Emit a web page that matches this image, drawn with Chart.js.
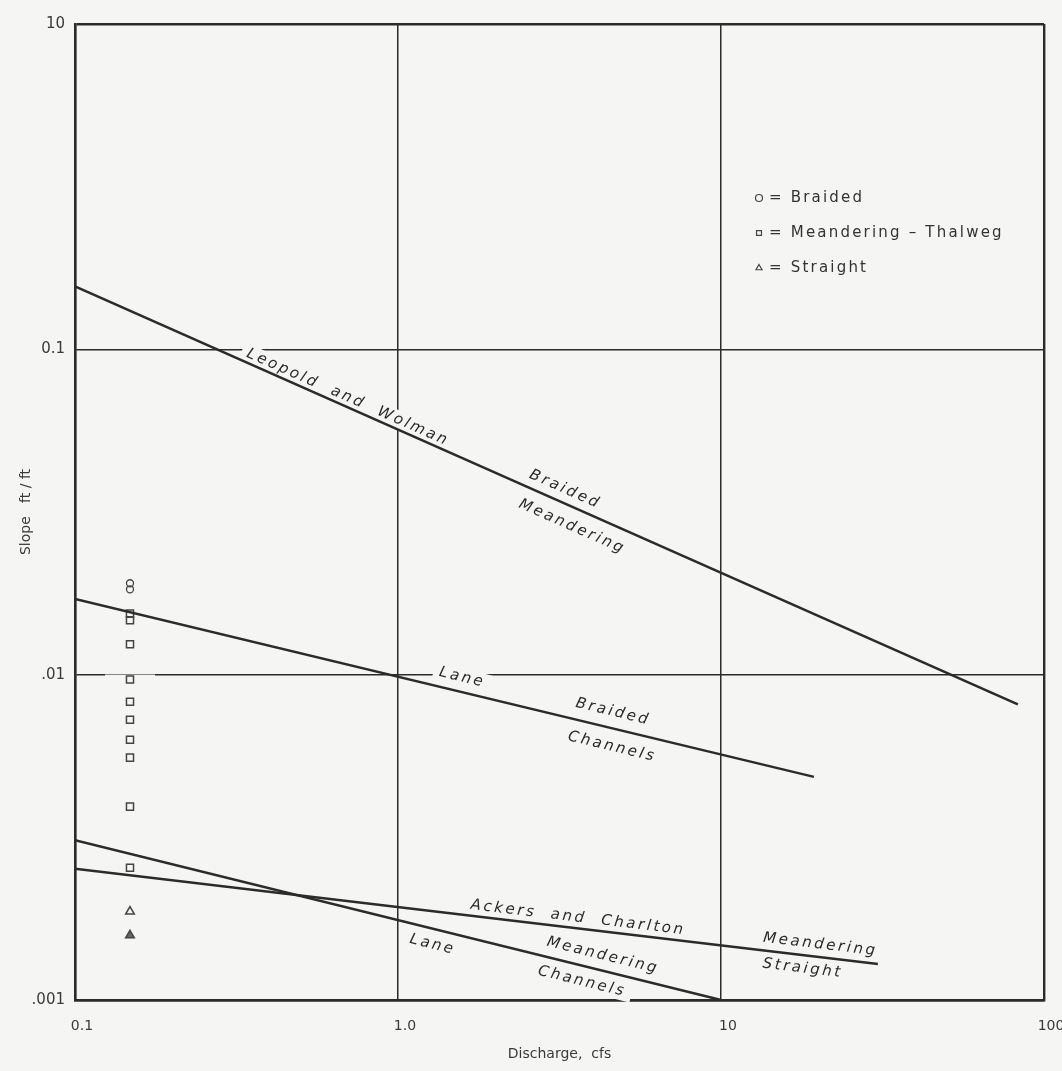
<!DOCTYPE html>
<html>
<head>
<meta charset="utf-8">
<title>Slope vs discharge</title>
<script src="https://cdn.jsdelivr.net/npm/chart.js@4.4.1/dist/chart.umd.min.js"></script>
<style>
  html, body { margin: 0; padding: 0; background: #f5f5f3; }
  #wrap { width: 1062px; height: 1071px; position: relative; }
</style>
</head>
<body>
<div id="wrap"><canvas id="slopeChart"></canvas></div>
<script>
  "use strict";

  // end points of the fitted lines: discharge (cfs) -> slope (ft/ft)
  const leopoldQ = [0.1, 83];
  const leopoldS = [0.156, 0.0081];
  const laneBraidedQ = [0.1, 19.4];
  const laneBraidedS = [0.0171, 0.00485];
  const ackersQ = [0.1, 30.6];
  const ackersS = [0.00253, 0.00129];
  const laneMeanderQ = [0.1, 10];
  const laneMeanderS = [0.0031, 0.001];

  // flume runs, all plotted at the same discharge
  const obsQ = 0.148;
  const braidedS = [0.0191, 0.0183];
  const meanderS = [0.0154, 0.0147, 0.0124, 0.00966, 0.00826, 0.00727,
                    0.00631, 0.00556, 0.00393, 0.00255];
  const straightS = [0.00187, 0.00158];

  const xTicks = [0.1, 1, 10, 100];
  const xTickLabels = ["0.1", "1.0", "10", "100"];
  const yTicks = [0.001, 0.01, 0.1, 1];
  const yTickLabels = [".001", ".01", "0.1", "10"];

  const keyLabels = ["= Braided", "= Meandering \u2013 Thalweg", "= Straight"];

  // words written along the lines (line = dataset index it follows)
  const lineNotes = [
    { text: "Leopold  and  Wolman", q: 0.70, s: 0.0711, line: 0 },
    { text: "Braided", q: 3.29, s: 0.0371, line: 0 },
    { text: "Meandering", q: 3.46, s: 0.0285, line: 0 },
    { text: "Lane", q: 1.58, s: 0.0098, line: 1 },
    { text: "Braided", q: 4.63, s: 0.00769, line: 1 },
    { text: "Channels", q: 4.6, s: 0.0060, line: 1 },
    { text: "Ackers  and  Charlton", q: 3.61, s: 0.00179, line: 2 },
    { text: "Meandering", q: 20.3, s: 0.00148, line: 2 },
    { text: "Straight", q: 17.9, s: 0.00125, line: 2 },
    { text: "Lane", q: 1.28, s: 0.00148, line: 3 },
    { text: "Meandering", q: 4.31, s: 0.00137, line: 3 },
    { text: "Channels", q: 3.71, s: 0.00114, line: 3 }
  ];

  const BG = "#f5f5f3";
  const INK = "#2b2b2b";

  const pts = (qs, ss) => ss.map((s, i) => ({ x: qs[i], y: s }));
  const col = (ss) => ss.map((s) => ({ x: obsQ, y: s }));

  const lineSet = (label, qs, ss) => ({
    label: label,
    data: pts(qs, ss),
    showLine: true,
    borderColor: INK,
    borderWidth: 2.5,
    pointRadius: 0,
    pointHoverRadius: 0
  });

  const bgPlugin = {
    id: "paper",
    beforeDraw(chart) {
      const { ctx, width, height } = chart;
      ctx.save();
      ctx.fillStyle = BG;
      ctx.fillRect(0, 0, width, height);
      ctx.restore();
    }
  };

  // labels sit on a paper-coloured patch so the grid breaks around them
  const notesPlugin = {
    id: "lineNotes",
    beforeDatasetsDraw(chart) {
      const { ctx, scales } = chart;
      ctx.save();
      ctx.font = 'italic 15px "DejaVu Sans"';
      ctx.letterSpacing = "2.6px";
      ctx.textAlign = "center";
      ctx.textBaseline = "middle";
      lineNotes.forEach((n) => {
        const el = chart.getDatasetMeta(n.line).data;
        const a = el[0], b = el[el.length - 1];
        const ang = Math.atan2(b.y - a.y, b.x - a.x);
        const px = scales.x.getPixelForValue(n.q);
        const py = scales.y.getPixelForValue(n.s);
        const w = ctx.measureText(n.text).width;
        ctx.save();
        ctx.translate(px, py);
        ctx.rotate(ang);
        ctx.fillStyle = BG;
        ctx.fillRect(-w / 2 - 6, -9, w + 12, 18);
        ctx.fillStyle = "#2a2a2a";
        ctx.fillText(n.text, 0, 0);
        ctx.restore();
      });
      // small gap in the grid around the column of observations
      [4, 5, 6].forEach((di) => {
        chart.getDatasetMeta(di).data.forEach((p) => {
          ctx.fillStyle = BG;
          ctx.fillRect(p.x - 25, p.y - 5, 50, 10);
        });
      });
      ctx.restore();
    }
  };

  const keyPlugin = {
    id: "keyBox",
    afterDatasetsDraw(chart) {
      const { ctx, chartArea } = chart;
      const x0 = chartArea.right - 285;
      const y0 = chartArea.top + 174;
      ctx.save();
      ctx.font = '15px "DejaVu Sans"';
      ctx.letterSpacing = "2.2px";
      ctx.textBaseline = "middle";
      [4, 5, 6].forEach((di, i) => {
        const ds = chart.data.datasets[di];
        const yy = y0 + i * 35;
        ctx.strokeStyle = "#444";
        ctx.fillStyle = "rgba(0,0,0,0)";
        ctx.lineWidth = 1.2;
        Chart.helpers.drawPoint(ctx, { pointStyle: ds.pointStyle, radius: 3.5, borderWidth: 1.2, rotation: 0 }, x0, yy);
        ctx.fillStyle = "#333";
        ctx.fillText(keyLabels[i], x0 + 10, yy);
      });
      ctx.restore();
    }
  };

  const frameWidth = (c, ticks) => {
    const v = c.tick ? c.tick.value : null;
    return v === ticks[0] || v === ticks[ticks.length - 1] ? 2.4 : 1.5;
  };

  new Chart(document.getElementById("slopeChart").getContext("2d"), {
    type: "scatter",
    data: {
      datasets: [
        lineSet("Leopold and Wolman", leopoldQ, leopoldS),
        lineSet("Lane braided", laneBraidedQ, laneBraidedS),
        lineSet("Ackers and Charlton", ackersQ, ackersS),
        lineSet("Lane meandering", laneMeanderQ, laneMeanderS),
        {
          label: "Braided",
          data: col(braidedS),
          pointStyle: "circle",
          pointRadius: 3.5,
          borderColor: "#444",
          borderWidth: 1.3,
          backgroundColor: "rgba(0,0,0,0)"
        },
        {
          label: "Meandering - Thalweg",
          data: col(meanderS),
          pointStyle: "rect",
          pointRadius: 5,
          borderColor: "#444",
          borderWidth: 1.5,
          backgroundColor: "rgba(0,0,0,0)"
        },
        {
          label: "Straight",
          data: col(straightS),
          pointStyle: "triangle",
          pointRadius: 5,
          borderColor: "#444",
          borderWidth: 1.5,
          backgroundColor: ["rgba(0,0,0,0)", "#666"]
        }
      ]
    },
    options: {
      responsive: true,
      maintainAspectRatio: false,
      animation: false,
      layout: { padding: { left: 0, top: 24, right: 18, bottom: 0 } },
      plugins: { legend: { display: false }, tooltip: { enabled: false } },
      scales: {
        x: {
          type: "logarithmic",
          position: "bottom",
          min: 0.1,
          max: 100,
          afterBuildTicks: (s) => { s.ticks = xTicks.map((v) => ({ value: v })); },
          afterFit: (s) => { s.height = 71; s.paddingLeft = 0; s.paddingRight = 0; },
          ticks: {
            autoSkip: false,
            maxRotation: 0,
            padding: 18,
            labelOffset: 7,
            color: "#3a3a3a",
            font: { family: "DejaVu Sans", size: 14 },
            callback: (v) => { const i = xTicks.indexOf(v); return i < 0 ? "" : xTickLabels[i]; }
          },
          grid: { color: INK, lineWidth: (c) => frameWidth(c, xTicks), drawTicks: false },
          border: { color: INK, width: 2.4 },
          title: {
            display: true,
            text: "Discharge,  cfs",
            color: "#3a3a3a",
            font: { family: "DejaVu Sans", size: 14 },
            padding: { top: 4, bottom: 8 }
          }
        },
        y: {
          type: "logarithmic",
          position: "left",
          min: 0.001,
          max: 1,
          afterBuildTicks: (s) => { s.ticks = yTicks.map((v) => ({ value: v })); },
          afterFit: (s) => { s.width = 75; s.paddingTop = 0; s.paddingBottom = 0; },
          ticks: {
            autoSkip: false,
            padding: 10,
            color: "#3a3a3a",
            font: { family: "DejaVu Sans", size: 15 },
            callback: (v) => { const i = yTicks.indexOf(v); return i < 0 ? "" : yTickLabels[i]; }
          },
          grid: { color: INK, lineWidth: (c) => frameWidth(c, yTicks), drawTicks: false },
          border: { color: INK, width: 2.4 },
          title: {
            display: true,
            text: "Slope   ft / ft",
            color: "#3a3a3a",
            font: { family: "DejaVu Sans", size: 14 },
            padding: { top: 18, bottom: 0 }
          }
        }
      }
    },
    plugins: [bgPlugin, notesPlugin, keyPlugin]
  });
</script>
</body>
</html>
